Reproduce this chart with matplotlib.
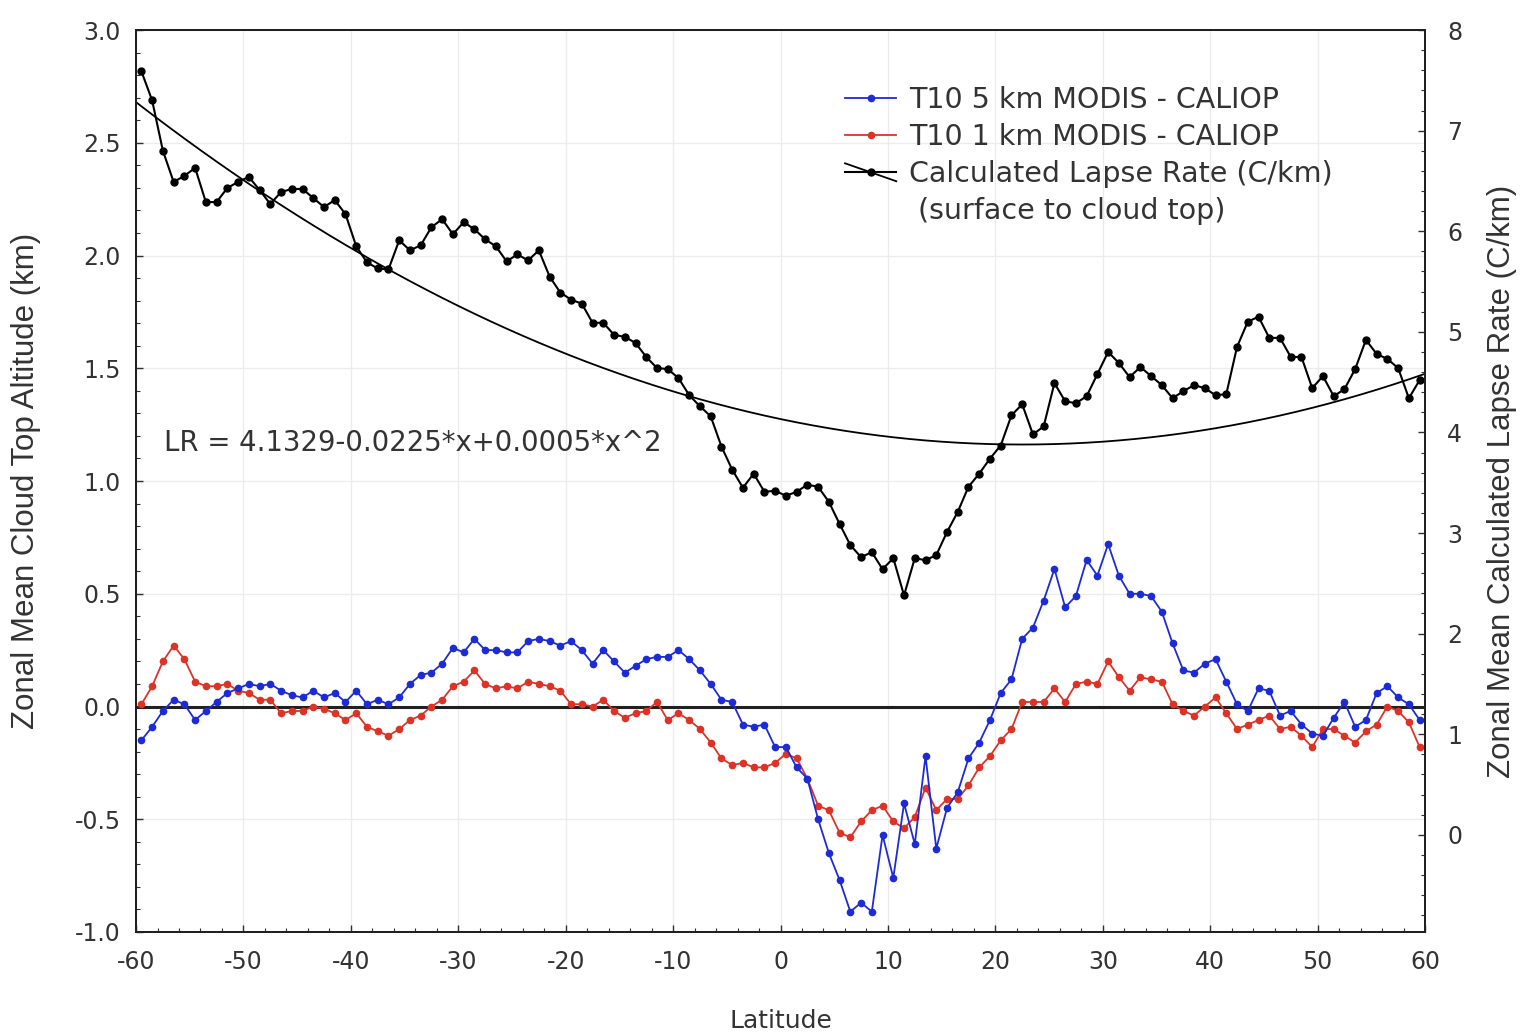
"""
Zonal mean cloud top altitude differences (MODIS - CALIOP) and
calculated lapse rate versus latitude, with quadratic lapse rate fit.
"""
import numpy as np
import matplotlib
matplotlib.use('Agg')
import matplotlib.pyplot as plt
from matplotlib.lines import Line2D
from matplotlib.legend_handler import HandlerBase
from matplotlib.ticker import MultipleLocator

plt.rcParams['axes.unicode_minus'] = False

# 1 degree latitude bins, centres from -59.5 to 59.5
lat = np.arange(-59.5, 60, 1.0)

# zonal mean calculated lapse rate (C/km), right axis
lapse = [7.59, 7.30, 6.80, 6.49, 6.55, 6.63, 6.29, 6.29, 6.43, 6.49,
         6.54, 6.41, 6.27, 6.39, 6.42, 6.42, 6.33, 6.24, 6.31, 6.17,
         5.85, 5.69, 5.63, 5.62, 5.91, 5.81, 5.86, 6.04, 6.12, 5.97,
         6.09, 6.02, 5.92, 5.85, 5.70, 5.77, 5.71, 5.81, 5.55, 5.39,
         5.32, 5.28, 5.09, 5.09, 4.97, 4.95, 4.89, 4.75, 4.64, 4.63,
         4.54, 4.37, 4.26, 4.16, 3.86, 3.63, 3.45, 3.59, 3.41, 3.42,
         3.37, 3.41, 3.48, 3.46, 3.31, 3.09, 2.88, 2.76, 2.81, 2.64,
         2.75, 2.38, 2.75, 2.73, 2.78, 3.01, 3.21, 3.46, 3.59, 3.74,
         3.87, 4.17, 4.28, 3.98, 4.06, 4.49, 4.31, 4.29, 4.36, 4.58,
         4.80, 4.69, 4.55, 4.65, 4.56, 4.47, 4.34, 4.41, 4.47, 4.44,
         4.37, 4.38, 4.85, 5.10, 5.15, 4.94, 4.94, 4.75, 4.75, 4.44,
         4.56, 4.36, 4.43, 4.63, 4.92, 4.78, 4.73, 4.64, 4.34, 4.52]

# T10 5 km MODIS - CALIOP cloud top altitude difference (km)
diff_5km = [-0.15, -0.09, -0.02, 0.03, 0.01, -0.06, -0.02, 0.02, 0.06, 0.08,
            0.10, 0.09, 0.10, 0.07, 0.05, 0.04, 0.07, 0.04, 0.06, 0.02,
            0.07, 0.01, 0.03, 0.01, 0.04, 0.10, 0.14, 0.15, 0.19, 0.26,
            0.24, 0.30, 0.25, 0.25, 0.24, 0.24, 0.29, 0.30, 0.29, 0.27,
            0.29, 0.25, 0.19, 0.25, 0.20, 0.15, 0.18, 0.21, 0.22, 0.22,
            0.25, 0.21, 0.16, 0.10, 0.03, 0.02, -0.08, -0.09, -0.08, -0.18,
            -0.18, -0.27, -0.32, -0.50, -0.65, -0.77, -0.91, -0.87, -0.91, -0.57,
            -0.76, -0.43, -0.61, -0.22, -0.63, -0.45, -0.38, -0.23, -0.16, -0.06,
            0.06, 0.12, 0.30, 0.35, 0.47, 0.61, 0.44, 0.49, 0.65, 0.58,
            0.72, 0.58, 0.50, 0.50, 0.49, 0.42, 0.28, 0.16, 0.15, 0.19,
            0.21, 0.11, 0.01, -0.02, 0.08, 0.07, -0.04, -0.02, -0.08, -0.12,
            -0.13, -0.05, 0.02, -0.09, -0.06, 0.06, 0.09, 0.04, 0.01, -0.06]

# T10 1 km MODIS - CALIOP cloud top altitude difference (km)
diff_1km = [0.01, 0.09, 0.20, 0.27, 0.21, 0.11, 0.09, 0.09, 0.10, 0.07,
            0.06, 0.03, 0.03, -0.03, -0.02, -0.02, 0.00, -0.01, -0.03, -0.06,
            -0.03, -0.09, -0.11, -0.13, -0.10, -0.06, -0.04, 0.00, 0.03, 0.09,
            0.11, 0.16, 0.10, 0.08, 0.09, 0.08, 0.11, 0.10, 0.09, 0.07,
            0.01, 0.01, 0.00, 0.03, -0.02, -0.05, -0.03, -0.02, 0.02, -0.06,
            -0.03, -0.06, -0.10, -0.16, -0.23, -0.26, -0.25, -0.27, -0.27, -0.25,
            -0.21, -0.23, -0.32, -0.44, -0.46, -0.56, -0.58, -0.51, -0.46, -0.44,
            -0.51, -0.54, -0.49, -0.36, -0.46, -0.41, -0.41, -0.35, -0.27, -0.22,
            -0.15, -0.10, 0.02, 0.02, 0.02, 0.08, 0.02, 0.10, 0.11, 0.10,
            0.20, 0.13, 0.07, 0.13, 0.12, 0.11, 0.01, -0.02, -0.04, 0.00,
            0.04, -0.03, -0.10, -0.08, -0.06, -0.04, -0.10, -0.09, -0.13, -0.18,
            -0.10, -0.10, -0.13, -0.16, -0.11, -0.08, 0.00, -0.02, -0.07, -0.18]

# quadratic fit of lapse rate: LR = c0 + c1*x + c2*x^2
fit_coefs = [4.1329, -0.0225, 0.0005]
fit_label = 'LR = 4.1329-0.0225*x+0.0005*x^2'

BLUE = '#1c2bd6'
RED = '#dd3326'
GREY = '#333333'
WIDE = ['DejaVu Sans']
NARROW = ['Liberation Sans', 'DejaVu Sans']


class LapseHandler(HandlerBase):
    """Legend key: dotted data line crossed by the fit line"""
    def create_artists(self, legend, orig_handle, xdescent, ydescent,
                       width, height, fontsize, trans):
        x0, x1 = -xdescent, width - xdescent
        yc = height / 2 - ydescent
        data = Line2D([x0, x1], [yc, yc], color='black', lw=1.5, transform=trans)
        dot = Line2D([(x0 + x1) / 2], [yc], marker='o', ms=5, color='black',
                     ls='none', transform=trans)
        fit = Line2D([x0, x1], [yc + 0.45 * height, yc - 0.45 * height],
                     color='black', lw=1.3, transform=trans)
        return [data, dot, fit]


def main():
    fig = plt.figure(figsize=(15.2, 10.36), dpi=100)
    ax = fig.add_axes([0.0895, 0.1004, 0.8480, 0.8706])
    ax2 = ax.twinx()

    # cloud top differences on the left axis
    ax.axhline(0, color='#202020', lw=2.2, zorder=2)
    l5, = ax.plot(lat, diff_5km, '-o', color=BLUE, lw=1.3, ms=4.5, zorder=4,
                  label='T10 5 km MODIS - CALIOP')
    l1, = ax.plot(lat, diff_1km, '-o', color=RED, lw=1.3, ms=4.5, zorder=3,
                  label='T10 1 km MODIS - CALIOP')

    # lapse rate and its fit on the right axis
    xf = np.linspace(-60, 60, 241)
    yf = fit_coefs[0] + fit_coefs[1] * xf + fit_coefs[2] * xf ** 2
    ax2.plot(xf, yf, color='black', lw=1.3)
    lr, = ax2.plot(lat, lapse, '-o', color='black', lw=1.5, ms=5)

    ax.set_xlim(-60, 60)
    ax.set_ylim(-1.0, 3.0)
    ax2.set_ylim(-0.966, 8.0)

    ax.xaxis.set_major_locator(MultipleLocator(10))
    ax.xaxis.set_minor_locator(MultipleLocator(2))
    ax.yaxis.set_major_locator(MultipleLocator(0.5))
    ax.yaxis.set_minor_locator(MultipleLocator(0.1))
    ax2.yaxis.set_major_locator(MultipleLocator(1))
    ax2.yaxis.set_minor_locator(MultipleLocator(0.2))
    ax.set_yticks(np.arange(-1.0, 3.01, 0.5))
    ax.set_yticklabels([f'{v:.1f}' for v in np.arange(-1.0, 3.01, 0.5)])
    ax2.set_yticks(range(0, 9))

    ax.grid(True, which='major', color='#ececec', lw=1.0)
    ax.set_axisbelow(True)

    for a in (ax, ax2):
        for sp in a.spines.values():
            sp.set_linewidth(1.4)
            sp.set_color('#202020')
        a.tick_params(which='both', direction='in', color='#303030')
        a.tick_params(which='major', length=5, width=1.0)
        a.tick_params(which='minor', length=3, width=0.8)
    ax.tick_params(axis='y', labelsize=17, pad=11, labelcolor=GREY)
    ax.tick_params(axis='x', labelsize=17, pad=13, labelcolor=GREY)
    ax2.tick_params(axis='y', labelsize=17, pad=16, labelcolor=GREY)
    for t in ax.get_yticklabels() + ax2.get_yticklabels() + ax.get_xticklabels():
        t.set_family(WIDE)

    ax.set_xlabel('Latitude', fontsize=18, family=WIDE, color=GREY)
    ax.xaxis.set_label_coords(0.5, -0.085)
    ax.set_ylabel('Zonal Mean Cloud Top Altitude (km)', fontsize=22.5,
                  family=NARROW, color=GREY)
    ax.yaxis.set_label_coords(-0.074, 0.5)
    ax2.set_ylabel('Zonal Mean Calculated Lapse Rate (C/km)', fontsize=22.5,
                   family=NARROW, color=GREY)
    ax2.yaxis.set_label_coords(1.048, 0.5)

    ax.text(-57.4, 1.17, fit_label, fontsize=19.8, family=WIDE, color=GREY,
            va='center', ha='left', zorder=5)

    blank = Line2D([], [], color='none')
    handles = [l5, l1, lr, blank]
    labels = ['T10 5 km MODIS - CALIOP', 'T10 1 km MODIS - CALIOP',
              'Calculated Lapse Rate (C/km)', ' (surface to cloud top)']
    leg = ax2.legend(handles, labels, loc='upper left',
                     bbox_to_anchor=(845 / 1520, 1 - 86 / 1036),
                     bbox_transform=fig.transFigure, borderaxespad=0,
                     frameon=False, numpoints=1, handlelength=1.8,
                     handletextpad=0.45, labelspacing=0.32, borderpad=0,
                     prop={'family': WIDE, 'size': 20.5},
                     handler_map={lr: LapseHandler()})
    for t in leg.get_texts():
        t.set_color(GREY)
    leg.set_zorder(10)

    fig.savefig('out.png', dpi=100)


if (__name__ == '__main__'):
    main()
